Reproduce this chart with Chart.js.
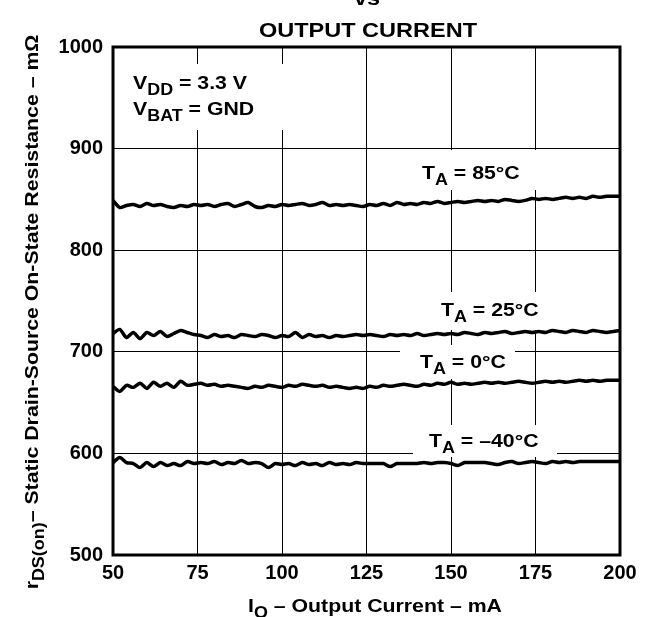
<!DOCTYPE html>
<html lang="en">
<head>
    <meta charset="UTF-8">
    <title>Static Drain-Source On-State Resistance vs Output Current</title>
    <script src="https://cdn.jsdelivr.net/npm/chart.js"></script>
    <style>
        body {
            margin: 0;
            padding: 0;
            background: #fff;
        }

        .chart-box {
            position: relative;
            width: 647px;
            height: 617px;
        }
    </style>
</head>
<body>

<div class="chart-box">
    <canvas id="rdsChart"></canvas>
</div>

<script>
    // output current, mA
    const currents = [50, 52, 54, 56, 58, 60, 62, 64, 66, 68, 70, 72, 74, 76, 78, 80, 82, 84, 86, 88,
        90, 92, 94, 96, 98, 100, 102, 104, 106, 108, 110, 112, 114, 116, 118, 120, 122, 124, 126, 128,
        130, 132, 134, 136, 138, 140, 142, 144, 146, 148, 150, 152, 154, 156, 158, 160, 162, 164, 166, 168,
        170, 172, 174, 176, 178, 180, 182, 184, 186, 188, 190, 192, 194, 196, 198, 200];

    // rDS(on) in mOhm for each temperature
    const r85 = [849, 842, 844, 845, 843, 846, 844, 845, 843, 842, 844, 843, 845, 844, 845, 843, 845, 846, 843, 845,
        847, 843, 842, 844, 843, 845, 844, 845, 846, 844, 845, 847, 844, 845, 844, 845, 844, 843, 845, 844,
        846, 844, 847, 845, 846, 845, 847, 846, 848, 846, 847, 848, 847, 848, 849, 848, 849, 848, 850, 849,
        848, 849, 851, 850, 851, 850, 851, 852, 851, 852, 851, 853, 852, 853, 853, 853];
    const r25 = [718, 722, 714, 719, 713, 719, 716, 720, 715, 718, 721, 719, 717, 716, 714, 717, 715, 716, 714, 717,
        716, 715, 717, 716, 714, 716, 715, 719, 714, 717, 715, 716, 714, 716, 715, 716, 717, 716, 717, 716,
        715, 717, 716, 717, 716, 718, 716, 717, 718, 717, 718, 717, 719, 718, 717, 719, 718, 719, 720, 718,
        719, 720, 719, 720, 719, 721, 720, 719, 721, 720, 719, 721, 720, 719, 720, 721];
    const r0 = [666, 661, 667, 665, 669, 664, 670, 666, 669, 665, 671, 667, 668, 669, 667, 668, 666, 667, 666, 665,
        664, 666, 665, 667, 666, 665, 667, 666, 668, 667, 666, 667, 665, 666, 665, 664, 665, 664, 666, 665,
        667, 666, 667, 668, 667, 666, 668, 667, 669, 668, 670, 668, 669, 668, 669, 670, 669, 670, 669, 670,
        671, 670, 669, 670, 671, 670, 671, 670, 671, 672, 671, 672, 671, 672, 672, 672];
    const rMinus40 = [591, 596, 591, 590, 586, 591, 587, 591, 588, 590, 588, 592, 590, 591, 590, 592, 589, 591, 590, 593,
        590, 591, 590, 586, 590, 589, 590, 588, 591, 589, 590, 588, 591, 589, 590, 589, 591, 590, 590, 590,
        590, 587, 590, 590, 590, 590, 591, 590, 591, 591, 590, 588, 591, 591, 591, 591, 590, 589, 591, 592,
        590, 591, 592, 591, 590, 592, 591, 592, 591, 592, 592, 592, 592, 592, 592, 592];

    const xTicks = [50, 75, 100, 125, 150, 175, 200];
    const yTicks = [500, 600, 700, 800, 900, 1000];

    const FONT = '"Liberation Sans", Arial, sans-serif';
    const STRETCH = 1.12; // the original lettering is a bit wider than Arial

    function toPoints(ys) {
        return currents.map((x, i) => ({ x: x, y: ys[i] }));
    }

    function curve(ys) {
        return {
            data: toPoints(ys),
            borderColor: '#000',
            borderWidth: 3.5,
            pointRadius: 0,
            tension: 0.25,
            fill: false
        };
    }

    // text made of [string, isSubscript] parts
    function partsWidth(ctx, parts, size, subSize) {
        let w = 0;
        parts.forEach(p => {
            ctx.font = 'bold ' + (p[1] ? subSize : size) + 'px ' + FONT;
            w += ctx.measureText(p[0]).width;
        });
        return w;
    }

    function drawParts(ctx, parts, x, y, size, subSize, align) {
        let w = partsWidth(ctx, parts, size, subSize) * STRETCH;
        let start = align === 'center' ? x - w / 2 : x;
        ctx.save();
        ctx.translate(start, y);
        ctx.scale(STRETCH, 1);
        ctx.textAlign = 'left';
        ctx.textBaseline = 'alphabetic';
        ctx.fillStyle = '#000';
        let cx = 0;
        parts.forEach(p => {
            ctx.font = 'bold ' + (p[1] ? subSize : size) + 'px ' + FONT;
            ctx.fillText(p[0], cx, p[1] ? 6 : 0);
            cx += ctx.measureText(p[0]).width;
        });
        ctx.restore();
    }

    // labels sit on white boxes that break the grid
    const labels = [
        { box: [125, 64, 160, 66], lines: [
            { parts: [['V', false], ['DD', true], [' = 3.3 V', false]], x: 133, y: 89 },
            { parts: [['V', false], ['BAT', true], [' = GND', false]], x: 133, y: 115 }
        ] },
        { box: [412, 150, 136, 40], lines: [{ parts: [['T', false], ['A', true], [' = 85°C', false]], x: 422, y: 179 }] },
        { box: [425, 292, 123, 38], lines: [{ parts: [['T', false], ['A', true], [' = 25°C', false]], x: 441, y: 316 }] },
        { box: [400, 345, 115, 34], lines: [{ parts: [['T', false], ['A', true], [' = 0°C', false]], x: 420, y: 368 }] },
        { box: [413, 425, 144, 32], lines: [{ parts: [['T', false], ['A', true], [' = \u201340°C', false]], x: 429, y: 447 }] }
    ];

    const annotate = {
        id: 'annotate',
        beforeDatasetsDraw(chart) {
            const ctx = chart.ctx;
            ctx.save();
            labels.forEach(l => {
                ctx.fillStyle = '#fff';
                ctx.fillRect(l.box[0], l.box[1], l.box[2], l.box[3]);
                l.lines.forEach(t => drawParts(ctx, t.parts, t.x, t.y, 19, 16, 'left'));
            });
            ctx.restore();
        },
        afterDraw(chart) {
            const ctx = chart.ctx;
            const a = chart.chartArea;
            ctx.save();
            ctx.strokeStyle = '#000';
            ctx.lineWidth = 3;
            ctx.strokeRect(a.left, a.top, a.right - a.left, a.bottom - a.top);

            // title (first line is cut off at the top edge)
            drawParts(ctx, [['vs', false]], 367, 5, 21, 16, 'center');
            drawParts(ctx, [['OUTPUT CURRENT', false]], 368, 37, 21, 16, 'center');

            // x axis title
            drawParts(ctx, [['I', false], ['O', true], [' \u2013 Output Current \u2013 mA', false]], 375, 612, 19, 16, 'center');

            // y axis title, rotated
            ctx.translate(38, 312);
            ctx.rotate(-Math.PI / 2);
            drawParts(ctx, [['r', false], ['DS(on)', true], ['\u2013 Static Drain-Source On-State Resistance \u2013 m\u03A9', false]], 0, 0, 19, 16, 'center');
            ctx.restore();
        }
    };

    const tickFont = { family: FONT, size: 20, weight: 'bold' };

    new Chart(document.getElementById('rdsChart'), {
        type: 'line',
        data: {
            datasets: [curve(r85), curve(r25), curve(r0), curve(rMinus40)]
        },
        options: {
            responsive: true,
            maintainAspectRatio: false,
            animation: false,
            layout: {
                padding: { left: 53, right: 27, top: 47, bottom: 32 }
            },
            plugins: {
                legend: { display: false },
                tooltip: { enabled: false }
            },
            scales: {
                x: {
                    type: 'linear',
                    min: 50,
                    max: 200,
                    afterBuildTicks: s => { s.ticks = xTicks.map(v => ({ value: v })); },
                    afterFit: s => { s.height = 30; },
                    ticks: { font: tickFont, color: '#000', padding: 6, maxRotation: 0, callback: v => String(v) },
                    grid: { color: '#000', lineWidth: 1, drawTicks: false },
                    border: { display: false }
                },
                y: {
                    min: 500,
                    max: 1000,
                    afterBuildTicks: s => { s.ticks = yTicks.map(v => ({ value: v })); },
                    afterFit: s => { s.width = 60; },
                    ticks: { font: tickFont, color: '#000', padding: 10, callback: v => String(v) },
                    grid: { color: '#000', lineWidth: 1, drawTicks: false },
                    border: { display: false }
                }
            }
        },
        plugins: [annotate]
    });
</script>
</body>
</html>
